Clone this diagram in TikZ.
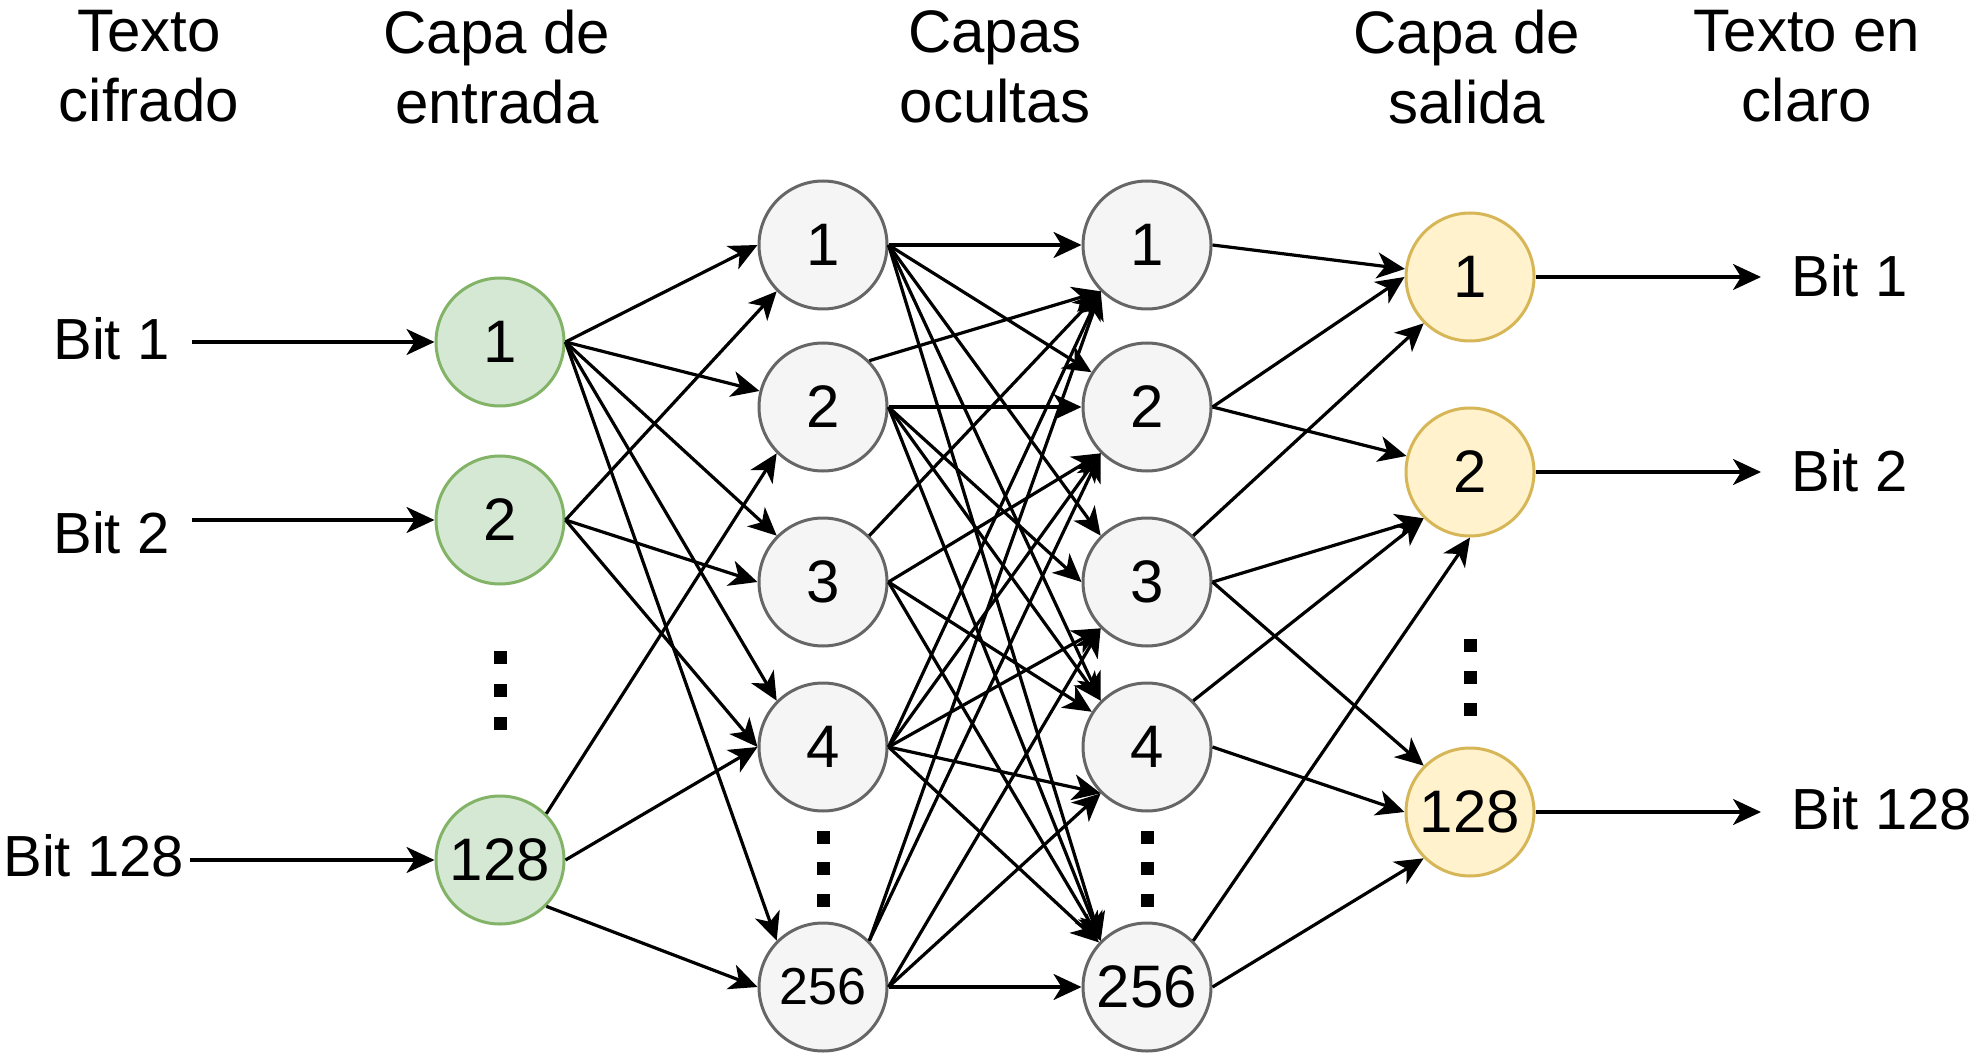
\documentclass[tikz,border=0pt]{standalone}
\usepackage{fontspec}
\setmainfont{Liberation Sans}
\usetikzlibrary{arrows.meta}
\definecolor{ingreen}{HTML}{D5E8D4}
\definecolor{ingreenD}{HTML}{82B366}
\definecolor{hidgray}{HTML}{F5F5F5}
\definecolor{hidgrayD}{HTML}{666666}
\definecolor{outyel}{HTML}{FFF2CC}
\definecolor{outyelD}{HTML}{D6B656}
\begin{document}
\begin{tikzpicture}[x=0.5pt,y=-0.5pt,
  neuron/.style={circle,minimum size=64pt,inner sep=0pt,line width=1.5pt,font=\fontsize{30}{35}\selectfont},
  inn/.style={neuron,fill=ingreen,draw=ingreenD},
  hid/.style={neuron,fill=hidgray,draw=hidgrayD},
  outn/.style={neuron,fill=outyel,draw=outyelD},
  lbl/.style={font=\fontsize{29}{34}\selectfont,inner sep=0pt},
  ttl/.style={font=\fontsize{30}{35}\selectfont,inner sep=0pt,align=center,anchor=north},
  conn/.style={line width=1.6pt,-{Stealth[length=14pt,width=13pt,inset=4pt]}},
  sq/.style={fill=black,minimum size=6.5pt,inner sep=0pt,rectangle}
]
\useasboundingbox (0,0) rectangle (1975,1053);
\fill[white] (0,0) rectangle (1975,1053);

% titles
\node[ttl] (t1) at (149,10) {Texto\\cifrado};
\node[ttl] (t2) at (497,10) {Capa de\\entrada};
\node[ttl] (t3) at (995,10) {Capas\\ocultas};
\node[ttl] (t4) at (1467,10) {Capa de\\salida};
\node[ttl] (t5) at (1807,10) {Texto en\\claro};

% input layer
\node[inn] (in1) at (500,342) {1};
\node[inn] (in2) at (500,520) {2};
\node[inn] (in128) at (500,860) {128};
% hidden layer 1
\node[hid] (a1) at (823,245) {1};
\node[hid] (a2) at (823,407) {2};
\node[hid] (a3) at (823,582) {3};
\node[hid] (a4) at (823,747) {4};
\node[hid,font=\fontsize{26}{30}\selectfont] (a5) at (823,987) {256};
% hidden layer 2
\node[hid] (b1) at (1147,245) {1};
\node[hid] (b2) at (1147,407) {2};
\node[hid] (b3) at (1147,582) {3};
\node[hid] (b4) at (1147,747) {4};
\node[hid] (b5) at (1147,987) {256};
% output layer
\node[outn] (o1) at (1470,277) {1};
\node[outn] (o2) at (1470,472) {2};
\node[outn] (o128) at (1470,812) {128};

% dots
\foreach \yy [count=\i] in {657,690,723} \node[sq] (di\i) at (500,\yy) {};
\foreach \yy [count=\i] in {837,868,900} \node[sq] (da\i) at (823,\yy) {};
\foreach \yy [count=\i] in {837,868,900} \node[sq] (db\i) at (1147,\yy) {};
\foreach \yy [count=\i] in {645,677,709} \node[sq] (do\i) at (1470,\yy) {};

% left labels
\node[lbl,anchor=base west] (bl1) at (53,360) {Bit 1};
\node[lbl,anchor=base west] (bl2) at (53,553) {Bit 2};
\node[lbl,anchor=base west] (bl128) at (3,876) {Bit 128};
\coordinate (s1) at (192,342);
\coordinate (s2) at (192,520);
\coordinate (s128) at (190,860);
\draw[conn] (s1) -- (in1.west);
\draw[conn] (s2) -- (in2.west);
\draw[conn] (s128) -- (in128.west);

% right labels
\node[lbl,anchor=base west] (br1) at (1791,297) {Bit 1};
\node[lbl,anchor=base west] (br2) at (1791,491) {Bit 2};
\node[lbl,anchor=base west] (br128) at (1791,829) {Bit 128};
\coordinate (e1) at (1761,277);
\coordinate (e2) at (1761,472);
\coordinate (e128) at (1761,812);
\draw[conn] (o1.east) -- (e1);
\draw[conn] (o2.east) -- (e2);
\draw[conn] (o128.east) -- (e128);

% input -> hidden 1
\draw[conn] (in1.east) -- (a1.west);
\draw[conn] (in1.east) -- (a2);
\draw[conn] (in1.east) -- (a3.135);
\draw[conn] (in1.east) -- (a4.135);
\draw[conn] (in1.east) -- (a5.135);
\draw[conn] (in2.east) -- (a1.225);
\draw[conn] (in2.east) -- (a3.west);
\draw[conn] (in2.east) -- (a4.west);
\draw[conn] (in128.45) -- (a2.225);
\draw[conn] (in128.east) -- (a4.west);
\draw[conn] (in128.315) -- (a5.west);

% hidden 1 -> hidden 2
\draw[conn] (a1.east) -- (b1.west);
\draw[conn] (a1.east) -- (b2);
\draw[conn] (a1.east) -- (b3.135);
\draw[conn] (a1.east) -- (b4.135);
\draw[conn] (a1.east) -- (b5.135);
\draw[conn] (a2.45) -- (b1.225);
\draw[conn] (a2.east) -- (b2.west);
\draw[conn] (a2.east) -- (b3.west);
\draw[conn] (a2.east) -- (b4.135);
\draw[conn] (a2.east) -- (b5.135);
\draw[conn] (a3.45) -- (b1.225);
\draw[conn] (a3.east) -- (b2.225);
\draw[conn] (a3.east) -- (b4);
\draw[conn] (a3.east) -- (b5.135);
\draw[conn] (a4.east) -- (b1.225);
\draw[conn] (a4.east) -- (b2.225);
\draw[conn] (a4.east) -- (b3.225);
\draw[conn] (a4.east) -- (b4.225);
\draw[conn] (a4.east) -- (b5);
\draw[conn] (a5.45) -- (b1.225);
\draw[conn] (a5.45) -- (b2.225);
\draw[conn] (a5.east) -- (b3.225);
\draw[conn] (a5.east) -- (b4.225);
\draw[conn] (a5.east) -- (b5.west);

% hidden 2 -> output
\draw[conn] (b1.east) -- (o1);
\draw[conn] (b2.east) -- (o1.west);
\draw[conn] (b3.45) -- (o1.225);
\draw[conn] (b2.east) -- (o2);
\draw[conn] (b3.east) -- (o2.225);
\draw[conn] (b4.45) -- (o2.225);
\draw[conn] (b5.45) -- (o2.south);
\draw[conn] (b3.east) -- (o128.135);
\draw[conn] (b4.east) -- (o128.west);
\draw[conn] (b5.east) -- (o128.225);
\end{tikzpicture}
\end{document}
